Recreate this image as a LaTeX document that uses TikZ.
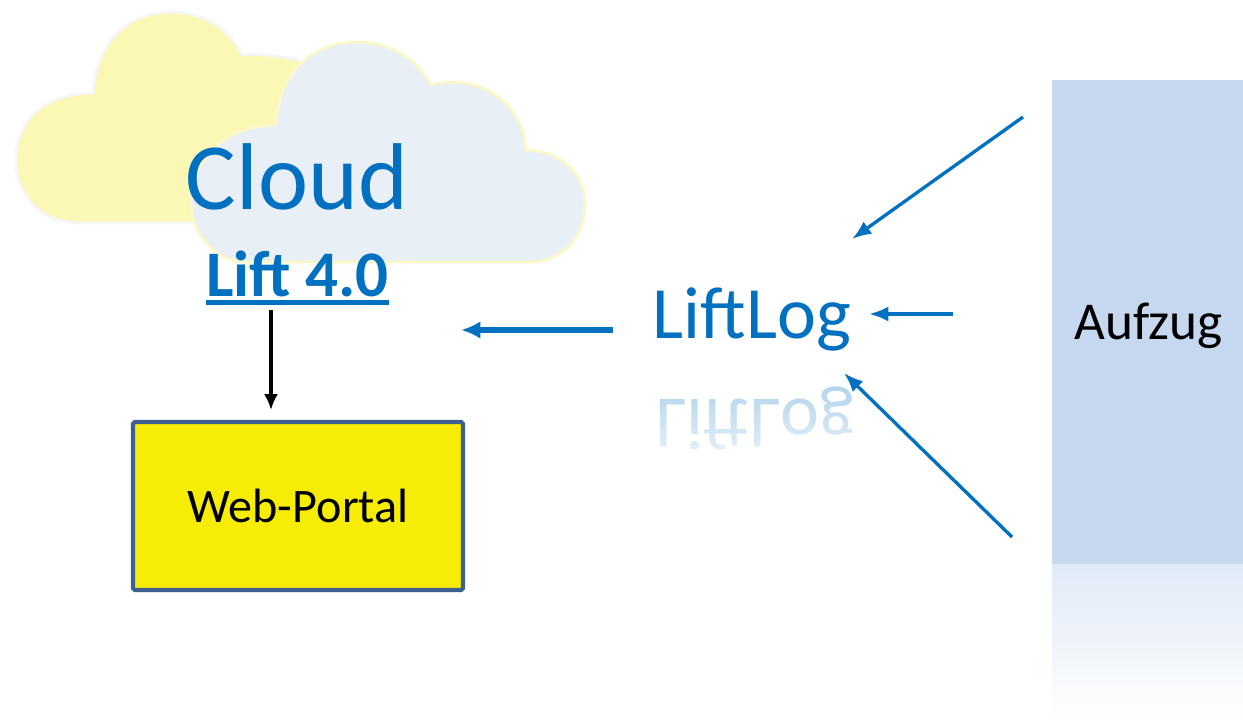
\documentclass[tikz,border=0pt]{standalone}
\usepackage{fontspec}
\setmainfont{Carlito}
\usetikzlibrary{arrows.meta, fadings}
\definecolor{liftblue}{HTML}{0070C0}
\definecolor{boxblue}{HTML}{C6D8F0}
\definecolor{portalyellow}{HTML}{F7EC06}
\definecolor{portalframe}{HTML}{3F5F8F}
\definecolor{backcloud}{HTML}{FBF8B5}
\definecolor{backedge}{HTML}{F5F6F9}
\definecolor{frontcloud}{HTML}{E9EFF7}
\definecolor{frontedge}{HTML}{FBF8C8}
\newcommand{\thickunder}[1]{\setbox0=\hbox{#1}\rlap{\raisebox{-5.2pt}{\rule{\wd0}{2.8pt}}}\box0}
\tikzset{
    bluearrow/.style = {-{Latex[length = 11pt, width = 8.5pt]}, draw = liftblue, fill = liftblue, line width = 1.9pt},
    bluetext/.style = {text = liftblue, inner sep = 0pt},
}
\begin{document}
\begin{tikzpicture}[x=0.02cm, y=-0.02cm]
        \useasboundingbox (0, 0) rectangle (1243, 722);
        % back cloud
        \draw[fill = backcloud, draw = backedge, line width = 1.6pt]
            (80, 223) .. controls (40, 223) and (16, 195) .. (16, 160)
            .. controls (16, 120) and (45, 93) .. (93, 93)
            .. controls (96, 45) and (125, 12) .. (171, 12)
            .. controls (205, 12) and (230, 30) .. (242, 55)
            .. controls (255, 53) and (265, 54) .. (300, 60)
            -- (300, 223) -- cycle;
        % front cloud
        \draw[fill = frontcloud, draw = frontedge, line width = 1.6pt]
            (238, 262) .. controls (210, 255) and (190, 230) .. (191, 200)
            .. controls (193, 155) and (230, 125) .. (276, 125)
            .. controls (278, 75) and (310, 42) .. (357, 42)
            .. controls (392, 42) and (418, 60) .. (431, 85)
            .. controls (480, 72) and (524, 105) .. (526, 150)
            .. controls (560, 150) and (587, 175) .. (585, 207)
            .. controls (584, 240) and (560, 262) .. (530, 262) -- cycle;
        % Aufzug with its reflection
        \shade[top color = boxblue!55!white, bottom color = white] (1052, 564) rectangle (1243, 722);
        \node[fill = boxblue, minimum width = 191*0.02cm, minimum height = 484*0.02cm, inner sep = 0pt] (aufzug) at (1147.5, 322) {};
        \node[inner sep = 0pt, font = \fontsize{30.3}{33}\selectfont] (aufzuglabel) at (1148.5, 326) {Aufzug};
        % LiftLog with its reflection
        \node[bluetext, font = \fontsize{42}{46}\selectfont] (liftlog) at (752, 319) {LiftLog};
        \node[bluetext, opacity = 0.32, yscale = -1, font = \fontsize{42}{46}\selectfont] (mirror) at (755, 419) {LiftLog};
        \fill[white, path fading = north] (640, 378) rectangle (870, 490);
        % labels
        \node[bluetext, font = \fontsize{54}{60}\selectfont] (cloud) at (297, 177) {Cloud};
        \node[bluetext, font = \bfseries\fontsize{37}{40}\selectfont] (lift) at (297.5, 278) {\thickunder{Lift 4.0}};
        \node[fill = portalyellow, draw = portalframe, line width = 2.3pt, rounded corners = 1pt,
            minimum width = 330*0.02cm, minimum height = 168*0.02cm, inner sep = 0pt,
            font = \fontsize{27.4}{30}\selectfont] (portal) at (298, 506) {Web-Portal};
        % arrows
        \coordinate (topstart) at (1023, 117);
        \coordinate (topend) at (852, 239);
        \coordinate (midstart) at (953, 314);
        \coordinate (midend) at (869, 314);
        \coordinate (lowstart) at (1012, 537);
        \coordinate (lowend) at (844, 373);
        \coordinate (outstart) at (613, 330);
        \coordinate (outend) at (461, 330);
        \coordinate (downstart) at (271, 310);
        \coordinate (downend) at (271, 410);
        \draw[bluearrow] (topstart) -- (topend);
        \draw[bluearrow] (midstart) -- (midend);
        \draw[bluearrow] (lowstart) -- (lowend);
        \draw[bluearrow, -{Latex[length = 11pt, width = 10pt]}, line width = 3pt] (outstart) -- (outend);
        \draw[-{Latex[length = 9pt, width = 8pt]}, line width = 1.8pt] (downstart) -- (downend);
    \end{tikzpicture}
\end{document}
